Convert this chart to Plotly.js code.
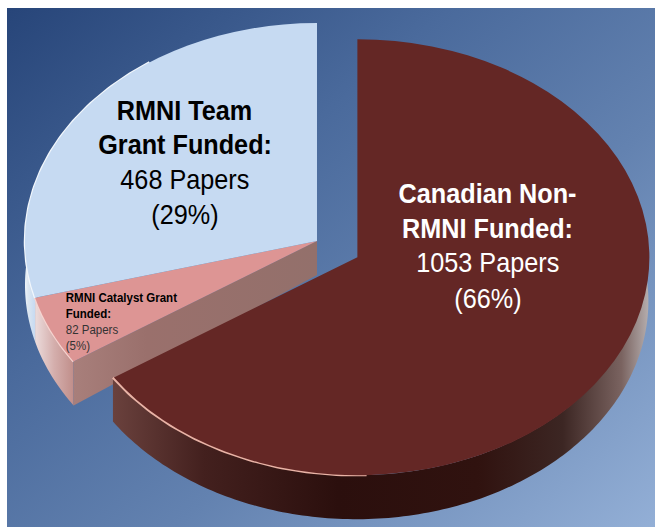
<!DOCTYPE html>
<html><head><meta charset="utf-8">
<script src="https://cdn.plot.ly/plotly-3.0.1.min.js"></script>
<style>
html,body{margin:0;padding:0;background:#fff;overflow:hidden}
#bg{position:absolute;left:7px;top:8px;width:648px;height:519px;background:linear-gradient(140deg,#274579 0%,#4a6a9c 35%,#6382b0 62%,#93afd6 100%)}
#chart{position:absolute;left:0;top:0;width:659px;height:527px}
</style></head><body>
<div id="bg"></div><div id="chart"></div>
<script>
const categories = ["Canadian Non-RMNI Funded", "RMNI Catalyst Grant Funded", "RMNI Team Grant Funded"];
const papers = [1053, 82, 468];
const sliceColors = ["#642725", "#dd9594", "#c6daf2"];
const teamLabel = ["<b>RMNI Team</b>", "<b>Grant Funded:</b>", "468 Papers", "(29%)"];
const canadianLabel = ["<b>Canadian Non-</b>", "<b>RMNI Funded:</b>", "1053 Papers", "(66%)"];
const catalystLabel = ["<b>RMNI Catalyst Grant</b>", "<b>Funded:</b>", "82 Papers", "(5%)"];

const W = 659, H = 527, RX = 292, RY = 218, CX = 317, CY = 241, DEPTH = 44, APEX_DEPTH = 34;
const PULL = 0.157, TEXT_SX = 0.885;
const total = papers.reduce((a, b) => a + b, 0);
const a1 = 360 * papers[0] / total;            // dark / pink boundary
const a2 = 360 * (papers[0] + papers[1]) / total; // pink / blue boundary
const rad = d => d * Math.PI / 180;
const darkMid = rad(a1 / 2);
const DX = CX + PULL * RX * Math.sin(darkMid) - 1, DY = CY - PULL * RY * Math.cos(darkMid);

function arc(cx, cy, t1, t2, off) {
  const xs = [], ys = [], n = Math.ceil(Math.abs(t2 - t1));
  for (let i = 0; i <= n; i++) {
    const t = rad(t1 + (t2 - t1) * i / n);
    xs.push(cx + RX * Math.sin(t)); ys.push(cy - RY * Math.cos(t) + off);
  }
  return [xs, ys];
}
function rim(cx, cy, t1, t2, stops) {
  const [x0, y0] = arc(cx, cy, t1, t2, 0), [x1, y1] = arc(cx, cy, t2, t1, DEPTH);
  return {type: "scatter", mode: "none", fill: "toself", x: x0.concat(x1), y: y0.concat(y1),
          fillgradient: {type: "horizontal", colorscale: stops}, hoverinfo: "skip", showlegend: false};
}
function hi(cx, cy, t1, t2, color, w) {
  const [x, y] = arc(cx, cy, t1, t2, 0);
  return {type: "scatter", mode: "lines", x, y, line: {color, width: w}, hoverinfo: "skip", showlegend: false};
}
const cornerX = CX + RX * Math.sin(rad(a1)), cornerY = CY - RY * Math.cos(rad(a1));
const pinkCut = {type: "scatter", mode: "none", fill: "toself",
  x: [CX, cornerX, cornerX, CX], y: [CY, cornerY, cornerY + DEPTH, CY + APEX_DEPTH],
  fillgradient: {type: "horizontal", colorscale: [[0, "#a87f7b"], [0.3, "#9a706c"], [1, "#93706b"]]},
  hoverinfo: "skip", showlegend: false};

const traces = [
  rim(CX, CY, a2, 282, [[0, "#eef4fa"], [0.3, "#dce6f0"], [1, "#c6daf2"]]),
  rim(CX, CY, a1, a2, [[0, "#ecdcdc"], [0.5, "#d4aeac"], [1, "#c08e8a"]]),
  pinkCut,
  rim(DX, DY, 84, a1, [[0, "#6a413d"], [0.17, "#43201e"], [0.42, "#2b0f0d"], [0.68, "#30120f"], [0.84, "#3c2623"], [0.95, "#7a6360"], [1, "#b5adad"]]),
  hi(CX, CY, a2, 325, "#f2f7fc", 2.5),
  hi(CX, CY, a1, a2, "#f6d4d0", 2.5),
  hi(DX, DY, 178, a1, "#e9b3a6", 2.5),
  {type: "pie", values: papers, labels: categories, sort: false, direction: "clockwise", rotation: 0,
   pull: [PULL, 0, 0], marker: {colors: sliceColors, line: {width: 0}}, textinfo: "none",
   showlegend: false, domain: {x: [0, 1], y: [0, 1]}, hoverinfo: "label+value+percent"}
];

const F = "Liberation Sans, Arial, sans-serif";
const line = (x, y, text, size, color, left) => ({xref: "x", yref: "y", x, y, text, showarrow: false,
  xanchor: left ? "left" : "center", yanchor: "middle", font: {family: F, size, color}});
const teamY = [110, 144, 179, 214], canadianY = [193, 228, 262, 298], catalystY = [297, 313, 329, 345];
const annotations = [
  ...teamLabel.map((t, i) => line(184.5, teamY[i], t, 28.5, "#000")),
  ...canadianLabel.map((t, i) => line(487.5, canadianY[i], t, 28.5, "#fff")),
  ...catalystLabel.map((t, i) => line(64, catalystY[i], t, 13, i < 2 ? "#000" : "#333", true))
];
const layout = {
  width: W, height: H, margin: {l: 0, r: 0, t: 0, b: 0}, autosize: false,
  paper_bgcolor: "rgba(0,0,0,0)", plot_bgcolor: "rgba(0,0,0,0)", showlegend: false,
  xaxis: {range: [0, W], visible: false, fixedrange: true},
  yaxis: {range: [H, 0], visible: false, fixedrange: true},
  annotations
};
Plotly.newPlot("chart", traces, layout, {displayModeBar: false}).then(() => {
  const r = Math.min(W, H) / (2 + 2 * PULL);
  const sx = RX / r, sy = RY / r;
  const tx = CX - sx * W / 2, ty = CY - sy * H / 2;
  document.querySelectorAll(".pielayer").forEach(g =>
    g.setAttribute("transform", `matrix(${sx},0,0,${sy},${tx},${ty})`));
  // the reference's lettering is horizontally condensed
  document.querySelectorAll("g.annotation").forEach((g, i) => {
    const ax = annotations[i].x;
    g.setAttribute("transform", `matrix(${TEXT_SX},0,0,1,${ax * (1 - TEXT_SX)},0)`);
  });
});
</script>
</body></html>
